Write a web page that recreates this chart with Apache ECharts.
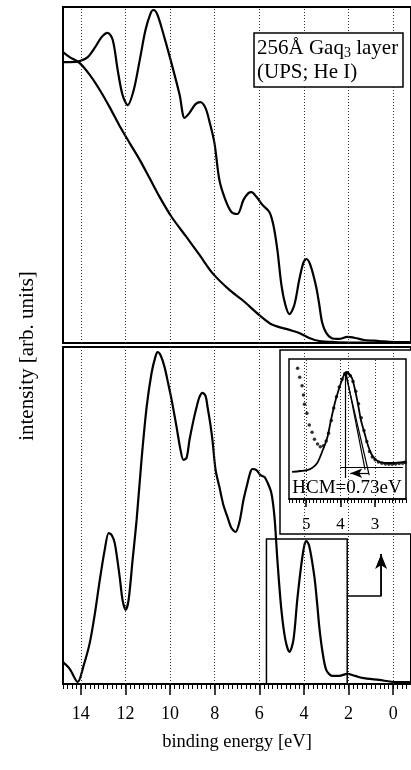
<!DOCTYPE html>
<html>
<head>
<meta charset="utf-8">
<script src="https://cdn.jsdelivr.net/npm/echarts@6/dist/echarts.min.js"></script>
<style>html,body{margin:0;padding:0;background:#fff}#c{width:411px;height:770px}</style>
</head>
<body>
<div id="c"></div>
<script>
// ---- data (binding energy [eV], intensity [arb. units, 0-100 per panel]) ----
const topUpsE = [14.8,14.50,14.05,13.69,13.38,13.06,12.80,12.57,12.35,12.13,11.90,11.63,11.36,11.10,10.87,10.74,10.56,10.25,9.89,9.57,9.35,9.13,8.86,8.64,8.41,8.23,8.01,7.79,7.52,7.25,6.98,6.71,6.49,6.35,6.13,5.86,5.55,5.37,5.19,5.01,4.83,4.65,4.43,4.21,4.03,3.89,3.71,3.45,3.31,3.18,3.00,2.77,2.42,2.06,1.70,1.30,0.63,-0.04,-0.8];
const topUpsI = [83.6,83.6,83.9,85.1,87.8,91.1,92.3,90.2,81.3,73.8,70.8,75.3,84.2,93.2,98.2,99.1,97.6,90.8,82.1,73.8,67.0,68.5,71.1,71.7,69.9,65.8,59.5,48.5,42.6,39.0,38.4,42.6,44.6,44.9,43.5,41.1,39.0,35.1,27.7,17.3,11.3,8.6,11.3,18.8,23.8,25.0,23.2,16.7,11.3,6.0,3.0,1.5,1.2,1.8,1.5,0.9,0.6,0.3,0.3];

const topBgE = [14.8,14.50,14.05,13.60,13.15,12.71,12.26,11.81,11.36,10.92,10.47,9.93,9.26,8.68,8.10,7.34,6.76,6.00,5.41,4.65,4.21,3.76,3.31,2.64,1.52,-0.8];
const topBgI = [86.6,85.1,83.3,79.8,75.3,70.2,64.6,59.5,54.5,49.1,43.5,37.5,31.5,26.2,20.8,15.8,12.8,8.3,5.4,3.9,3.0,1.5,0.6,0.3,0.15,0];

const bottomE = [14.8,14.50,14.14,13.87,13.60,13.38,13.15,12.93,12.75,12.62,12.48,12.26,12.13,11.99,11.86,11.68,11.50,11.28,11.05,10.83,10.65,10.56,10.43,10.25,10.07,9.93,9.71,9.53,9.40,9.26,9.13,8.95,8.81,8.68,8.55,8.41,8.32,8.19,8.10,7.96,7.79,7.61,7.43,7.25,7.07,6.89,6.71,6.53,6.40,6.31,6.13,5.95,5.77,5.64,5.46,5.32,5.19,5.01,4.83,4.65,4.47,4.30,4.12,3.98,3.89,3.76,3.53,3.40,3.31,3.18,3.00,2.73,2.42,2.06,1.70,1.39,0.63,-0.13,-0.8];
const bottomI = [6.5,4.5,0.6,5.6,12.2,20.5,30.9,39.8,44.8,44.2,41.8,31.8,24.9,22.0,24.9,36.8,48.7,66.5,82.2,92.3,97.3,98.5,97.6,94.1,88.7,84.3,76.3,69.4,66.5,67.1,72.4,78.3,82.2,85.2,86.4,85.5,82.2,76.9,72.4,63.5,58.5,53.1,49.6,46.3,45.1,48.1,54.6,59.6,62.9,63.8,63.5,62.0,61.4,59.9,56.7,49.6,36.8,22.0,13.1,9.5,13.1,24.9,35.3,41.2,42.4,40.9,31.8,23.4,16.9,10.1,4.2,2.4,2.4,3.0,2.4,1.8,1.2,0.6,0.6];

const insetFitE = [5.41,5.17,4.97,4.83,4.68,4.54,4.39,4.28,4.16,4.04,3.96,3.90,3.84,3.75,3.67,3.58,3.49,3.41,3.29,3.20,3.09,2.97,2.86,2.57,2.19,2.10];
const insetFitI = [19.3,20.0,20.7,22.1,25.7,33.6,43.6,56.4,69.3,79.3,85.0,88.6,90.7,89.3,86.4,77.9,67.1,56.4,45.7,37.9,31.4,27.9,26.4,25.7,26.4,27.1];

const insetDotsE = [5.25,5.19,5.12,5.08,5.05,4.98,4.91,4.83,4.76,4.67,4.59,4.50,4.42,4.35,4.27,4.20,4.12,4.04,3.96,3.88,3.80,3.72,3.64,3.56,3.48,3.40,3.32,3.24,3.16,3.08,3.00,2.90,2.80,2.70,2.60,2.50,2.40,2.30,2.20,2.12];
const insetDotsI = [93.4,86.9,80.9,74.3,67.6,61.2,52.9,47.6,42.6,39.3,37.4,38,41.5,47,56,65,73,80,85.5,89.5,90,88,84,77,68,58,49,41,34,30,28,26.5,25.5,25,24.8,24.8,25,25.3,25.5,26];

const majorTicks = [0,2,4,6,8,10,12,14];
const insetTicks = [3,4,5];
const zoomBoxE = [5.68, 2.06];
const zoomBoxTop = 43.0;
const arrowE = [2.06, 0.54, 0.54];
const arrowI = [26.1, 26.1, 38.6];
const hcmPeakE = 3.87, hcmEdgeE = 3.17, hcmBaseStartE = 4.01, hcmBaseEndE = 2.19;

// ---- chart ----
const zip = (a, b) => a.map((v, i) => [v, b[i]]);
const SERIF = '"Liberation Serif", "Times New Roman", serif';
const dotted = {type: [1, 2], color: '#333', width: 1};
const gridMarks = (vals) => ({
  silent: true, symbol: ['none', 'none'], label: {show: false},
  lineStyle: dotted, animation: false,
  data: vals.map(v => ({xAxis: v}))
});

const chart = echarts.init(document.getElementById('c'), null, {renderer: 'canvas'});
const option = {
  animation: false,
  backgroundColor: '#fff',
  title: {
    left: 254, top: 33,
    text: '256Å Gaq{sub|3} layer\n(UPS; He I)',
    padding: [3, 5, 3, 3],
    borderColor: '#000', borderWidth: 1.5, backgroundColor: '#fff',
    textStyle: {
      fontFamily: SERIF, fontSize: 21, fontWeight: 'normal', color: '#000', lineHeight: 24,
      rich: {sub: {fontFamily: SERIF, fontSize: 14, color: '#000', lineHeight: 24, verticalAlign: 'bottom'}}
    }
  },
  grid: [
    {left: 63, top: 7, width: 349, height: 336, show: true, borderColor: '#000', borderWidth: 2},
    {left: 63, top: 347, width: 349, height: 337, show: true, borderColor: '#000', borderWidth: 2},
    {left: 289, top: 359, width: 117, height: 140, show: true, borderColor: '#000', borderWidth: 1.5, backgroundColor: '#fff', z: 4}
  ],
  xAxis: [
    {gridIndex: 0, type: 'value', inverse: true, min: -0.8, max: 14.8, show: false},
    {gridIndex: 1, type: 'value', position: 'bottom', inverse: true, min: -0.8, max: 14.8, interval: 0.2,
      axisLine: {show: true, lineStyle: {color: '#000', width: 2}},
      axisTick: {show: true, length: 5, lineStyle: {color: '#000', width: 1}},
      axisLabel: {show: false}, splitLine: {show: false}},
    {gridIndex: 1, type: 'value', position: 'bottom', inverse: true, min: -0.8, max: 14.8,
      axisLine: {show: false},
      axisTick: {show: true, length: 11, customValues: majorTicks, lineStyle: {color: '#000', width: 1.5}},
      axisLabel: {show: true, customValues: majorTicks, margin: 21, fontFamily: SERIF, fontSize: 18, color: '#000'},
      splitLine: {show: false},
      name: 'binding energy [eV]', nameLocation: 'middle', nameGap: 49,
      nameTextStyle: {fontFamily: SERIF, fontSize: 18.5, color: '#000'}},
    {gridIndex: 2, type: 'value', position: 'bottom', inverse: true, min: 2.1, max: 5.5, interval: 0.1, z: 5,
      axisLine: {show: true, lineStyle: {color: '#000', width: 1.5}},
      axisTick: {show: true, length: 4, lineStyle: {color: '#000', width: 1}},
      axisLabel: {show: false}, splitLine: {show: false}},
    {gridIndex: 2, type: 'value', position: 'bottom', inverse: true, min: 2.1, max: 5.5, z: 5,
      axisLine: {show: false},
      axisTick: {show: true, length: 8, customValues: insetTicks, lineStyle: {color: '#000', width: 1.5}},
      axisLabel: {show: true, customValues: insetTicks, margin: 17, fontFamily: SERIF, fontSize: 17, color: '#000'},
      splitLine: {show: false}}
  ],
  yAxis: [
    {gridIndex: 0, type: 'value', min: 0, max: 100, show: false},
    {gridIndex: 1, type: 'value', min: 0, max: 100, show: false},
    {gridIndex: 2, type: 'value', min: 0, max: 100, show: false}
  ],
  graphic: [
    {type: 'rect', z: 3, shape: {x: 280, y: 350, width: 132, height: 184},
      style: {fill: '#fff', stroke: '#000', lineWidth: 1.5}},
    {type: 'text', z: 10, x: 27, y: 356, rotation: Math.PI / 2,
      style: {text: 'intensity [arb. units]', font: '21px "Liberation Serif"', fill: '#000',
        textAlign: 'center', textVerticalAlign: 'middle', align: 'center', verticalAlign: 'middle'}},
    {type: 'text', z: 10, x: 347, y: 488,
      style: {text: 'HCM=0.73eV', font: '19px "Liberation Serif"', fill: '#000',
        textAlign: 'center', textVerticalAlign: 'middle', align: 'center', verticalAlign: 'middle'}}
  ],
  series: [
    {name: 'UPS top', type: 'line', xAxisIndex: 0, yAxisIndex: 0, data: zip(topUpsE, topUpsI),
      smooth: 0.3, symbol: 'none', lineStyle: {color: '#000', width: 2.2}, markLine: gridMarks(majorTicks)},
    {name: 'background', type: 'line', xAxisIndex: 0, yAxisIndex: 0, data: zip(topBgE, topBgI),
      smooth: 0.3, symbol: 'none', lineStyle: {color: '#000', width: 2.2}},
    {name: 'UPS bottom', type: 'line', xAxisIndex: 1, yAxisIndex: 1, data: zip(bottomE, bottomI),
      smooth: 0.3, symbol: 'none', lineStyle: {color: '#000', width: 2.2}, markLine: gridMarks(majorTicks),
      markArea: {silent: true, itemStyle: {color: 'rgba(0,0,0,0)', borderColor: '#000', borderWidth: 1.5},
        data: [[{xAxis: zoomBoxE[0], yAxis: zoomBoxTop}, {xAxis: zoomBoxE[1], yAxis: 0}]]}},
    {name: 'arrow', type: 'line', xAxisIndex: 1, yAxisIndex: 1, data: zip(arrowE, arrowI),
      symbol: 'none', lineStyle: {color: '#000', width: 1.5},
      markLine: {silent: true, symbol: ['none', 'none'], label: {show: false}, lineStyle: {color: '#000', width: 1.5, type: 'solid'},
        data: [[{coord: [arrowE[1], arrowI[1]]}, {coord: [arrowE[2], arrowI[2]], symbol: 'arrow', symbolSize: [9, 15]}]]}},
    {name: 'fit', type: 'line', xAxisIndex: 3, yAxisIndex: 2, z: 6, data: zip(insetFitE, insetFitI),
      smooth: 0.3, symbol: 'none', lineStyle: {color: '#000', width: 1.8},
      markLine: {silent: true, symbol: ['none', 'none'], label: {show: false}, lineStyle: {color: '#000', width: 1.2, type: 'solid'},
        data: [
          ...insetTicks.map(v => ({xAxis: v, lineStyle: dotted})),
          [{coord: [hcmPeakE, 90.5]}, {coord: [hcmPeakE, 15]}],
          [{coord: [3.84, 90]}, {coord: [3.29, 21]}],
          [{coord: [3.86, 90]}, {coord: [hcmEdgeE, 17]}],
          [{coord: [hcmBaseStartE, 22.9]}, {coord: [hcmBaseEndE, 22.9]}],
          [{coord: [3.20, 18.4]}, {coord: [3.72, 18.4], symbol: 'arrow', symbolSize: [7, 12]}]
        ]}},
    {name: 'measured', type: 'scatter', xAxisIndex: 3, yAxisIndex: 2, z: 6, data: zip(insetDotsE, insetDotsI),
      symbol: 'circle', symbolSize: 3.5, itemStyle: {color: '#000'}}
  ]
};
chart.setOption(option);
</script>
</body>
</html>
